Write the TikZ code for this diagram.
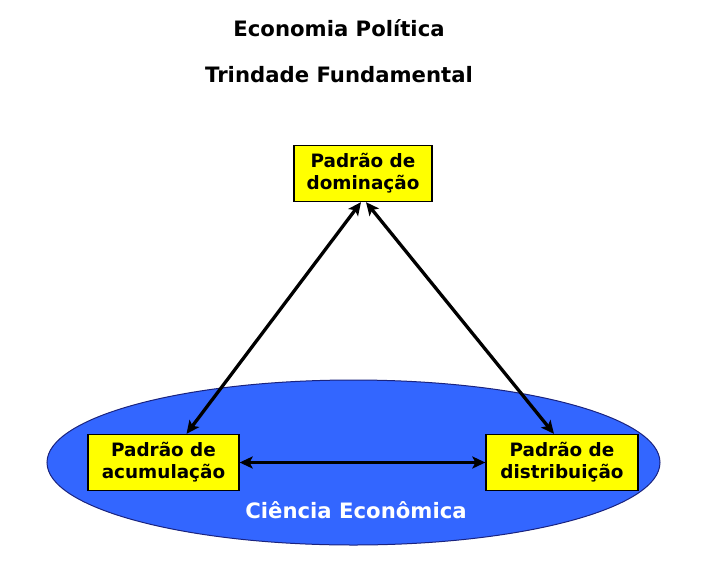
\documentclass[tikz,border=0pt]{standalone}
\usepackage{fontspec}
\setmainfont{DejaVu Sans}
\usepackage{xcolor}
\usetikzlibrary{arrows.meta,positioning,shapes.geometric}
\definecolor{CienciaBlue}{HTML}{3366FF}
\definecolor{CienciaEdge}{HTML}{1A237E}
\definecolor{PadraoYellow}{HTML}{FFFF00}

\begin{document}
\begin{tikzpicture}[
  x=1pt, y=-1pt,
  title/.style={font=\fontsize{21.2}{25}\selectfont\bfseries},
  box/.style={draw, line width=1.3pt, fill=PadraoYellow, align=center, inner sep=2pt, minimum height=56pt, font=\fontsize{18.4}{22}\selectfont\bfseries},
  arrow/.style={{Stealth[length=13pt,width=12pt,inset=3pt]}-{Stealth[length=13pt,width=12pt,inset=3pt]}, line width=3.3pt}
]
  \useasboundingbox (0,0) rectangle (705,574);

  \node[title] (economia) at (339,28) {Economia Política};
  \node[title] (trindade) at (339,75) {Trindade Fundamental};

  % campo da ciencia economica
  \node[ellipse, draw=CienciaEdge, line width=1pt, fill=CienciaBlue,
        minimum width=613pt, minimum height=165pt] (ciencia) at (353.5,462.5) {};
  \node[font=\fontsize{21.2}{25}\selectfont\bfseries, text=white] (cienciatxt) at (356,510) {Ciência Econômica};

  \node[box, minimum width=138pt] (dominacao) at (363,173.5) {Padrão de\\dominação};
  \node[box, minimum width=151pt] (acumulacao) at (163.5,462.5) {Padrão de\\acumulação};
  \node[box, minimum width=152pt] (distribuicao) at (562,462.5) {Padrão de\\distribuição};

  \draw[arrow] ([xshift=-2pt]dominacao.south) -- ([xshift=23pt]acumulacao.north);
  \draw[arrow] ([xshift=3pt]dominacao.south) -- ([xshift=-8pt]distribuicao.north);
  \draw[arrow] (acumulacao) -- (distribuicao);
\end{tikzpicture}
\end{document}
